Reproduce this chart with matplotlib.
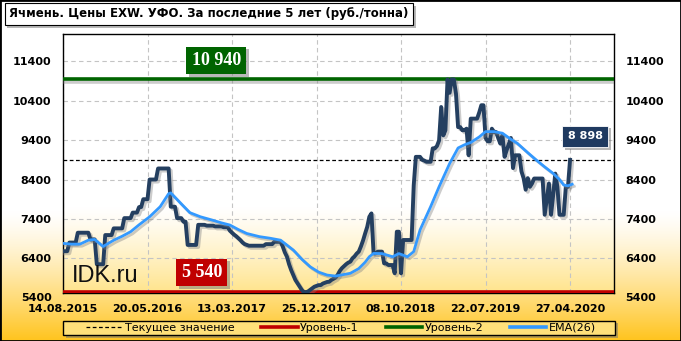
import numpy as np
import matplotlib
matplotlib.use("Agg")
import matplotlib.pyplot as plt
from matplotlib.lines import Line2D
from matplotlib.patches import Rectangle
import matplotlib.patheffects as pe

# ---------------- data ----------------
title = "Ячмень. Цены EXW. УФО. За последние 5 лет (руб./тонна)"
x_tick_labels = ["14.08.2015", "20.05.2016", "13.03.2017", "25.12.2017",
                 "08.10.2018", "22.07.2019", "27.04.2020"]
x_tick_pos = [0, 40, 80, 120, 160, 200, 240]
y_ticks = [6400, 7400, 8400, 9400, 10400, 11400]

# weekly prices (rub/t)
price = [
    6580, 6580, 6580, 6800, 6800, 6800, 6800, 7050, 7050, 7050,
    7050, 7050, 7050, 6880, 6880, 6880, 6250, 6250, 6250, 6250,
    6990, 6990, 6990, 6990, 7160, 7160, 7160, 7160, 7160, 7420,
    7420, 7420, 7420, 7560, 7560, 7560, 7700, 7700, 7900, 7900,
    7900, 8400, 8400, 8400, 8400, 8680, 8680, 8680, 8680, 8680,
    8680, 7710, 7710, 7710, 7420, 7420, 7420, 7330, 7330, 6740,
    6740, 6740, 6740, 6740, 7250, 7250, 7250, 7250, 7230, 7230,
    7230, 7230, 7210, 7210, 7210, 7210, 7190, 7190, 7190, 7100,
    7050, 7000, 6960, 6910, 6860, 6800, 6760, 6740, 6720, 6720,
    6720, 6720, 6720, 6720, 6720, 6720, 6760, 6760, 6760, 6760,
    6820, 6820, 6820, 6820, 6700, 6550, 6440, 6250, 6100, 5975,
    5850, 5765, 5680, 5600, 5540, 5540, 5560, 5600, 5640, 5680,
    5700, 5720, 5720, 5760, 5780, 5800, 5805, 5850, 5880, 5910,
    5980, 6080, 6150, 6200, 6250, 6290, 6315, 6400, 6450, 6520,
    6570, 6700, 6850, 7030, 7200, 7455, 7540, 6525, 6525, 6570,
    6570, 6570, 6270, 6270, 6230, 6230, 6230, 6020, 7075, 7075,
    6020, 6865, 6865, 6865, 6865, 6865, 8250, 8975, 8975, 8975,
    8900, 8880, 8850, 8850, 8850, 9190, 9190, 9250, 9390, 10240,
    9520, 9650, 10940, 10600, 10940, 10940, 10580, 9730, 9730, 9650,
    9650, 9690, 9015, 9945, 9945, 9945, 9945, 10100, 10285, 10285,
    9455, 9370, 9370, 9690, 9605, 9605, 9450, 9310, 9520, 8975,
    9145, 9300, 9455, 8690, 9015, 9015, 9015, 8605, 8435, 8140,
    8435, 8215, 8300, 8425, 8425, 8425, 8425, 8425, 7505, 7900,
    8300, 7505, 8000, 8550, 8215, 7505, 7505, 7505, 8215, 8215,
    8898,
]

# EMA(26) at selected weeks
ema_idx = [0, 4, 8, 12, 15, 19, 24, 28, 32, 36, 41, 46, 50, 51, 56, 60, 65,
           70, 75, 79, 83, 87, 93, 98, 103, 109, 113, 117, 121, 125, 129,
           133, 136, 140, 143, 145, 147, 151, 156, 159, 163, 166, 169, 174,
           178, 183, 187, 190, 193, 197, 200, 204, 208, 212, 215, 220, 224,
           228, 232, 235, 237, 239, 241]
ema_val = [6780, 6760, 6760, 6860, 6880, 6700, 6860, 6960, 7075, 7250, 7455,
           7710, 8040, 8060, 7780, 7560, 7455, 7380, 7300, 7245, 7130, 7030,
           6950, 6910, 6860, 6610, 6380, 6185, 6050, 5975, 5950, 5990, 6020,
           6140, 6300, 6440, 6525, 6520, 6440, 6520, 6440, 6570, 7120, 7710,
           8215, 8805, 9200, 9280, 9340, 9480, 9615, 9615, 9575, 9420, 9320,
           9080, 8895, 8720, 8555, 8400, 8260, 8240, 8280]

level1 = 5540
level2 = 10940
current = 8898
legend_labels = ["Текущее значение", "Уровень-1", "Уровень-2", "EMA(26)"]

# ---------------- styling ----------------
plt.rcParams["font.family"] = ["DejaVu Sans"]
plt.rcParams["font.weight"] = "bold"

W, H = 681, 341
fig = plt.figure(figsize=(W / 100, H / 100), dpi=100)

# figure background gradient (white -> gold at bottom)
bg = fig.add_axes([0, 0, 1, 1], zorder=-10)
t = np.linspace(0, 1, H)[:, None]
s = np.clip((t - 0.62) / 0.38, 0, 1) ** 1.3
c0 = np.array([1.0, 1.0, 1.0])
c1 = np.array([255, 196, 30]) / 255
img = (1 - s)[:, :, None] * c0 + s[:, :, None] * c1
bg.imshow(img, aspect="auto", extent=[0, 1, 0, 1], origin="upper")
bg.axis("off")

pos = [63 / W, 1 - 293 / H, (614 - 63) / W, (293 - 34.3) / H]

# plot-area gradient
abg = fig.add_axes(pos, zorder=-5)
u = np.linspace(1, 0, 300)[:, None]
s2 = np.clip((0.33 - u) / 0.33, 0, 1) ** 1.2
c2 = np.array([255, 228, 140]) / 255
img2 = (1 - s2)[:, :, None] * c0 + s2[:, :, None] * c2
abg.imshow(img2, aspect="auto", extent=[0, 1, 0, 1], origin="upper")
abg.axis("off")

ax = fig.add_axes(pos, zorder=1)
ax.patch.set_alpha(0)

x = np.arange(len(price))
shadow = [pe.SimpleLineShadow(offset=(1.5, -1.5), shadow_color="gray", alpha=0.4), pe.Normal()]

ax.axhline(level2, color="#006400", lw=2.6, zorder=3, path_effects=shadow)
ax.axhline(level1, color="#C00000", lw=2.6, zorder=3, path_effects=shadow)
ax.axhline(current, color="black", lw=0.9, ls=(0, (3, 2)), zorder=3)
ax.plot(x, price, color="#243F60", lw=2.8, zorder=4, path_effects=shadow)
ax.plot(ema_idx, ema_val, color="#3399FF", lw=2.0, zorder=5, path_effects=shadow)

ax.set_xlim(0, 260.8)
ax.set_ylim(5520, 12085)
ax.set_xticks(x_tick_pos)
ax.set_xticklabels(x_tick_labels)
ax.set_yticks(y_ticks)
ax.set_yticklabels([str(v) for v in y_ticks])
ax.set_axisbelow(True)
ax.grid(True, color="#C4C4C4", ls=(0, (4, 3)), lw=0.8)
ax.tick_params(axis="x", length=0, labelsize=8, pad=8, colors="black")
ax.tick_params(axis="y", length=0, left=False, right=False, labelleft=True, labelright=True,
               labelsize=8, pad=8.2, colors="black")
for sp in ax.spines.values():
    sp.set_color("black")
    sp.set_linewidth(1)

# the 5400 labels sit just below the plot bottom
for xa, dx, ha in [(0, -8.2, "right"), (1, 8.2, "left")]:
    ax.annotate("5400", xy=(xa, 5400), xycoords=ax.get_yaxis_transform(),
                xytext=(dx, 0), textcoords="offset points", ha=ha, va="center",
                fontsize=8, fontweight="bold", annotation_clip=False)

def fmt(v):
    return f"{v:,}".replace(",", " ")

box_shadow = [pe.withSimplePatchShadow(offset=(2, -2), shadow_rgbFace="0.45", alpha=0.5)]

t2 = ax.text(0.278, 0.899, fmt(level2), transform=ax.transAxes, ha="center", va="center",
             color="white", fontsize=13, fontfamily="Liberation Serif", fontweight="bold",
             bbox=dict(boxstyle="square,pad=0.3", fc="#006400", ec="none"), zorder=7)
t2.get_bbox_patch().set_path_effects(box_shadow)
t1 = ax.text(0.252, 0.079, fmt(level1), transform=ax.transAxes, ha="center", va="center",
             color="white", fontsize=13, fontfamily="Liberation Serif", fontweight="bold",
             bbox=dict(boxstyle="square,pad=0.3", fc="#C00000", ec="none"), zorder=7)
t1.get_bbox_patch().set_path_effects(box_shadow)
tc = ax.text(0.948, 0.606, fmt(current), transform=ax.transAxes, ha="center", va="center",
             color="white", fontsize=8, fontweight="bold",
             bbox=dict(boxstyle="square,pad=0.5", fc="#1F3A60", ec="white", lw=0.6), zorder=7)
tc.get_bbox_patch().set_path_effects(box_shadow)

ax.text(0.016, 0.0425, "IDK.ru", transform=ax.transAxes, fontsize=17,
        fontfamily="Liberation Sans", fontweight="normal", va="baseline",
        color="#111111", zorder=6)

# title box
tt = fig.text(9 / W, 1 - 14 / H, title, fontsize=8.5, fontweight="bold", ha="left", va="center",
              color="black",
              bbox=dict(boxstyle="square,pad=0.38", fc="white", ec="black", lw=0.8))
tt.get_bbox_patch().set_path_effects(box_shadow)

# legend frame (drawn separately, full plot width)
frame = Rectangle((63 / W, 1 - 335 / H), 552 / W, 14.3 / H, transform=fig.transFigure,
                  fc="#FFE07A", ec="black", lw=1, zorder=2)
frame.set_path_effects(box_shadow)
fig.add_artist(frame)

handles = [
    Line2D([], [], color="black", lw=0.9, ls=(0, (3, 2))),
    Line2D([], [], color="#C00000", lw=2.6),
    Line2D([], [], color="#006400", lw=2.6),
    Line2D([], [], color="#3399FF", lw=2.6),
]
leg = fig.legend(handles, legend_labels, loc="center",
                 bbox_to_anchor=(341 / W, 1 - 328 / H),
                 ncol=4, frameon=False,
                 prop={"size": 8, "weight": "normal"}, handlelength=3.3,
                 handletextpad=0.2, borderaxespad=0, borderpad=0,
                 columnspacing=2.4)
leg.set_zorder(3)

fig.add_artist(Rectangle((0, 0), 1, 1, transform=fig.transFigure, fill=False,
                         ec="black", lw=2))

fig.savefig("out.png", dpi=100)
